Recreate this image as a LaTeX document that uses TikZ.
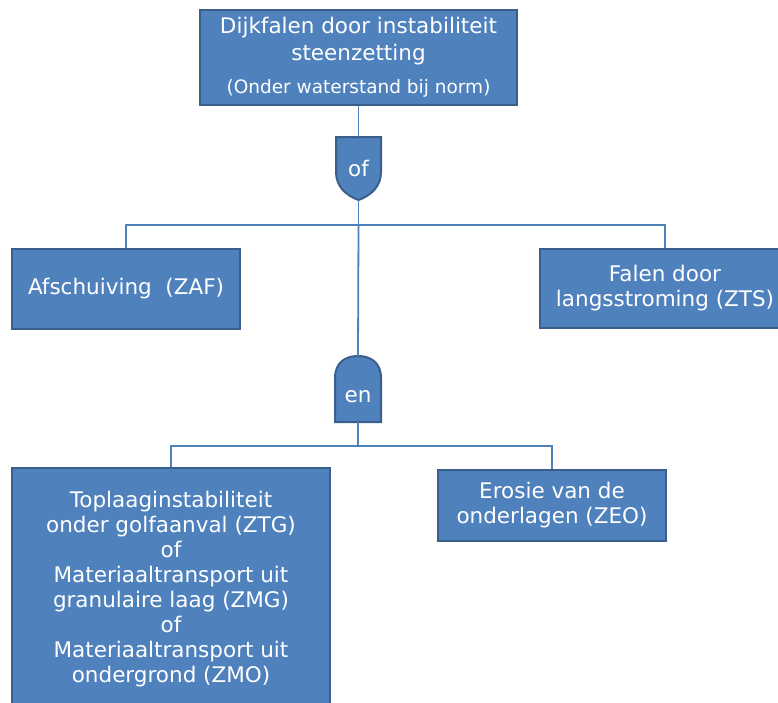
\documentclass[tikz,border=0pt]{standalone}
\usepackage{fontspec}
\setmainfont{DejaVu Sans}
\definecolor{boxblue}{HTML}{4F81BD}
\definecolor{boxedge}{HTML}{3A5F8B}
\tikzset{
  box/.style={draw=boxedge, line width=2pt, fill=boxblue, text=white, align=center,
    inner sep=0pt, font=\fontsize{21.5}{25}\selectfont},
  gatefill/.style={draw=boxedge, line width=2pt, fill=boxblue},
  gate/.style={minimum width=45pt, inner sep=0pt, text=white, font=\fontsize{21.5}{25}\selectfont},
  link/.style={draw=boxblue, line width=1.8pt}
}
\begin{document}
\begin{tikzpicture}[x=1pt, y=-1pt]
  \clip (0,0) rectangle (778,702);

  % Top event
  \node[box, minimum width=317pt, minimum height=95pt, font=\fontsize{21.5}{27}\selectfont] (top) at (358.5,57.5)
    {Dijkfalen door instabiliteit\\steenzetting\\[6pt]{\fontsize{18.5}{22}\selectfont (Onder waterstand bij norm)}};

  % Gate of
  \filldraw[gatefill] (336,137) -- (381,137) -- (381,172) to[out=-90,in=20] (358.5,200)
    to[out=160,in=-90] (336,172) -- cycle;
  \node[gate, minimum height=63pt] (gof) at (358.5,168.5) {of};

  % Level 1
  \node[box, minimum width=228pt, minimum height=80pt] (zaf) at (126,289) {Afschuiving\ \ (ZAF)};
  \node[box, minimum width=250pt, minimum height=79pt] (zts) at (665,288.5) {Falen door\\langsstroming (ZTS)};

  % Gate en
  \filldraw[gatefill] (335,422) -- (335,378) .. controls (335,362) and (346,356) .. (358,356)
    .. controls (370,356) and (381,362) .. (381,378) -- (381,422) -- cycle;
  \node[gate, minimum height=66pt, text height=27pt, text depth=0pt] (gen) at (358,389) {en};

  % Level 2
  \node[box, minimum width=318pt, minimum height=242pt] (ztg) at (171,589)
    {Toplaaginstabiliteit\\onder golfaanval (ZTG)\\of\\Materiaaltransport uit\\granulaire laag (ZMG)\\of\\Materiaaltransport uit\\ondergrond (ZMO)};
  \node[box, minimum width=228pt, minimum height=71pt] (zeo) at (552,505.5) {Erosie van de\\onderlagen (ZEO)};

  % Connectors
  \coordinate (busof) at (358.5,225);
  \coordinate (busen) at (358,446);
  \draw[link] (top.south) -- (gof.north);
  \draw[link] (gof.south) -- (busof);
  \draw[link] (busof) -| (zaf.north);
  \draw[link] (busof) -| (zts.north);
  \draw[link] (busof) -- (gen.north);
  \draw[link] (gen.south) -- (busen);
  \draw[link] (busen) -| (ztg.north);
  \draw[link] (busen) -| (zeo.north);
\end{tikzpicture}
\end{document}
